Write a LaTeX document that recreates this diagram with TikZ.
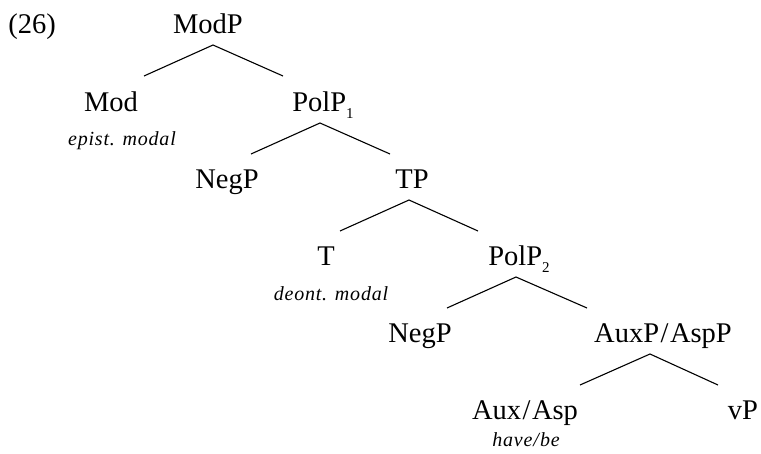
\documentclass[tikz,border=0pt]{standalone}
\usepackage{fontspec}
\setmainfont{Liberation Serif}
\newcommand{\sbx}[1]{\raisebox{-0.28em}{\fontsize{15}{15}\selectfont #1}}
\newcommand{\slsh}{\kern1.5pt/\kern1.5pt}
\begin{document}
\begin{tikzpicture}[x=1pt,y=-1pt,
  lab/.style={anchor=base,inner sep=0pt,font=\fontsize{28.5}{30}\selectfont},
  ann/.style={anchor=base,inner sep=0pt,font=\fontsize{20}{22}\selectfont\itshape\addfontfeatures{LetterSpace=4}},
  br/.style={line width=1.1pt}]
\useasboundingbox (0,0) rectangle (761,453);
% labels
\node[lab] (ex) at (32,33) {(26)};
\node[lab] (ModP) at (208,33) {ModP};
\node[lab] (Mod) at (111,111) {Mod};
\node[ann] (epist) at (122,145) {epist. modal};
\node[lab] (PolPa) at (323,111) {PolP\sbx{1}};
\node[lab] (NegPa) at (227,188) {NegP};
\node[lab] (TP) at (412,188) {TP};
\node[lab] (T) at (326,265) {T};
\node[ann] (deont) at (331,300) {deont. modal};
\node[lab] (PolPb) at (519,265) {PolP\sbx{2}};
\node[lab] (NegPb) at (420,342) {NegP};
\node[lab] (AuxP) at (663,342) {AuxP\slsh AspP};
\node[lab] (Aux) at (525,419) {Aux\slsh Asp};
\node[ann] (have) at (526,446) {have\kern1pt/\kern1pt be};
\node[lab] (vP) at (743,419) {vP};
% branch points
\coordinate (a1) at (213,45);  \coordinate (l1) at (144,76);  \coordinate (r1) at (283,76);
\coordinate (a2) at (320,123); \coordinate (l2) at (251,154); \coordinate (r2) at (390,154);
\coordinate (a3) at (409,200); \coordinate (l3) at (340,231); \coordinate (r3) at (478,231);
\coordinate (a4) at (516,277); \coordinate (l4) at (447,308); \coordinate (r4) at (587,308);
\coordinate (a5) at (650,354); \coordinate (l5) at (580,385); \coordinate (r5) at (718,385);
\draw[br] (l1) -- (a1) -- (r1);
\draw[br] (l2) -- (a2) -- (r2);
\draw[br] (l3) -- (a3) -- (r3);
\draw[br] (l4) -- (a4) -- (r4);
\draw[br] (l5) -- (a5) -- (r5);
\end{tikzpicture}
\end{document}
